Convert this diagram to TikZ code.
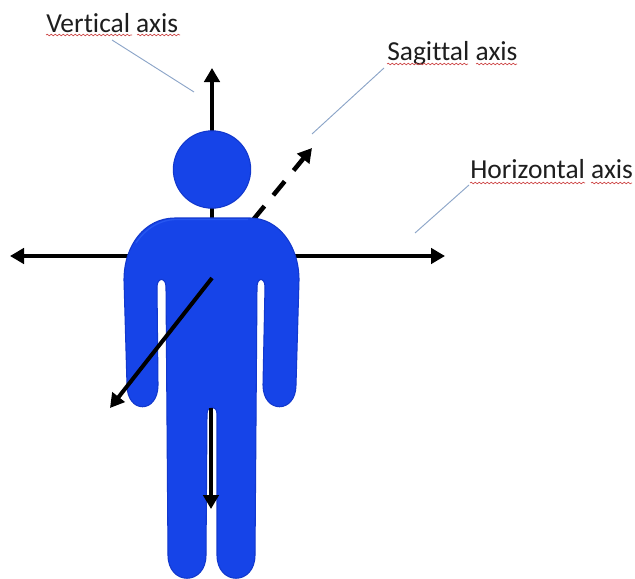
\documentclass[tikz,border=0pt]{standalone}
\usepackage{fontspec}
\setmainfont[Ligatures=NoCommon]{Carlito}
\usetikzlibrary{arrows.meta,decorations.pathmorphing}
\definecolor{figblue}{RGB}{22,68,232}
\definecolor{figedge}{RGB}{18,56,205}
\definecolor{figlight}{RGB}{38,86,240}
\definecolor{leader}{RGB}{140,165,200}
\definecolor{spell}{RGB}{205,70,70}
\definecolor{txt}{RGB}{30,30,30}
\tikzset{
  axisline/.style={line width=3pt,black,-{Triangle[width=11.5pt,length=10.5pt]}},
  axisdash/.style={axisline,line width=3.4pt,dash pattern=on 13.5pt off 10.5pt},
  leaderline/.style={line width=0.7pt,leader},
  labeltext/.style={anchor=base west,inner sep=0pt,text=txt,font=\fontsize{20.6pt}{24pt}\selectfont},
  squiggle/.style={spell,line width=0.5pt,decorate,decoration={snake,amplitude=0.6pt,segment length=3pt}},
  headshape/.style={circle,minimum size=58pt,inner sep=0pt,fill=figblue,draw=figedge,line width=0.8pt},
}
\begin{document}
\begin{tikzpicture}[x=0.75pt,y=-0.75pt]
\useasboundingbox (0,0) rectangle (635,578);
% named points
\coordinate (vbase) at (212,225);
\coordinate (vtip) at (212,68);
\coordinate (hleft) at (10,256);
\coordinate (hright) at (445,256);
\coordinate (sbase) at (253,220);
\coordinate (stip) at (312,148);
\coordinate (fbase) at (212,278);
\coordinate (ftip) at (110,408);
\coordinate (dbase) at (211,408);
\coordinate (dtip) at (211,509);
\coordinate (l1a) at (112,40);
\coordinate (l1b) at (194,92);
\coordinate (l2a) at (384,68);
\coordinate (l2b) at (312,134);
\coordinate (l3a) at (469,185);
\coordinate (l3b) at (415,233);
% axes behind the figure
\draw[axisline] (vbase) -- (vtip);
\draw[axisline,{Triangle[width=11.5pt,length=10.5pt]}-{Triangle[width=11.5pt,length=10.5pt]}] (hleft) -- (hright);
\draw[axisdash] (sbase) -- (stip);
% figure
\fill[figblue,draw=figedge,line width=0.8pt]
  (212,218) -- (175,218) .. controls (145,218) and (124,245) .. (124,280)
  -- (127,385) .. controls (127,414) and (158,414) .. (158,385)
  -- (157,287) .. controls (157,277) and (166,277) .. (166,287)
  -- (168,555) .. controls (168,586) and (206,586) .. (206,555)
  -- (207,414) .. controls (207,405) and (217,405) .. (217,414)
  -- (217,555) .. controls (217,586) and (255,586) .. (255,555)
  -- (257,287) .. controls (257,277) and (265,277) .. (265,287)
  -- (263,385) .. controls (263,414) and (296,414) .. (296,385)
  -- (299,280) .. controls (299,245) and (278,218) .. (250,218) -- cycle;
\draw[figlight,line width=1pt] (136,243) .. controls (146,228) and (160,220) .. (175,219.5) -- (248,219.5);
\node[headshape] (head) at (212,169.5) {};
% axes in front of the figure
\draw[axisline] (fbase) -- (ftip);
\draw[axisline] (dbase) -- (dtip);
% labels and leaders
\node[labeltext] (lv) at (46,32) {Vertical axis};
\node[labeltext] (ls) at (387,60) {Sagittal axis};
\node[labeltext] (lh) at (470,178) {Horizontal axis};
\draw[leaderline] (l1a) -- (l1b);
\draw[leaderline] (l2a) -- (l2b);
\draw[leaderline] (l3a) -- (l3b);
\draw[squiggle] (46,35) -- (132,35);
\draw[squiggle] (137,35) -- (180,35);
\draw[squiggle] (387,64) -- (468,64);
\draw[squiggle] (476,64) -- (517,64);
\draw[squiggle] (470,183) -- (585,183);
\draw[squiggle] (591,183) -- (632,183);
\end{tikzpicture}
\end{document}
